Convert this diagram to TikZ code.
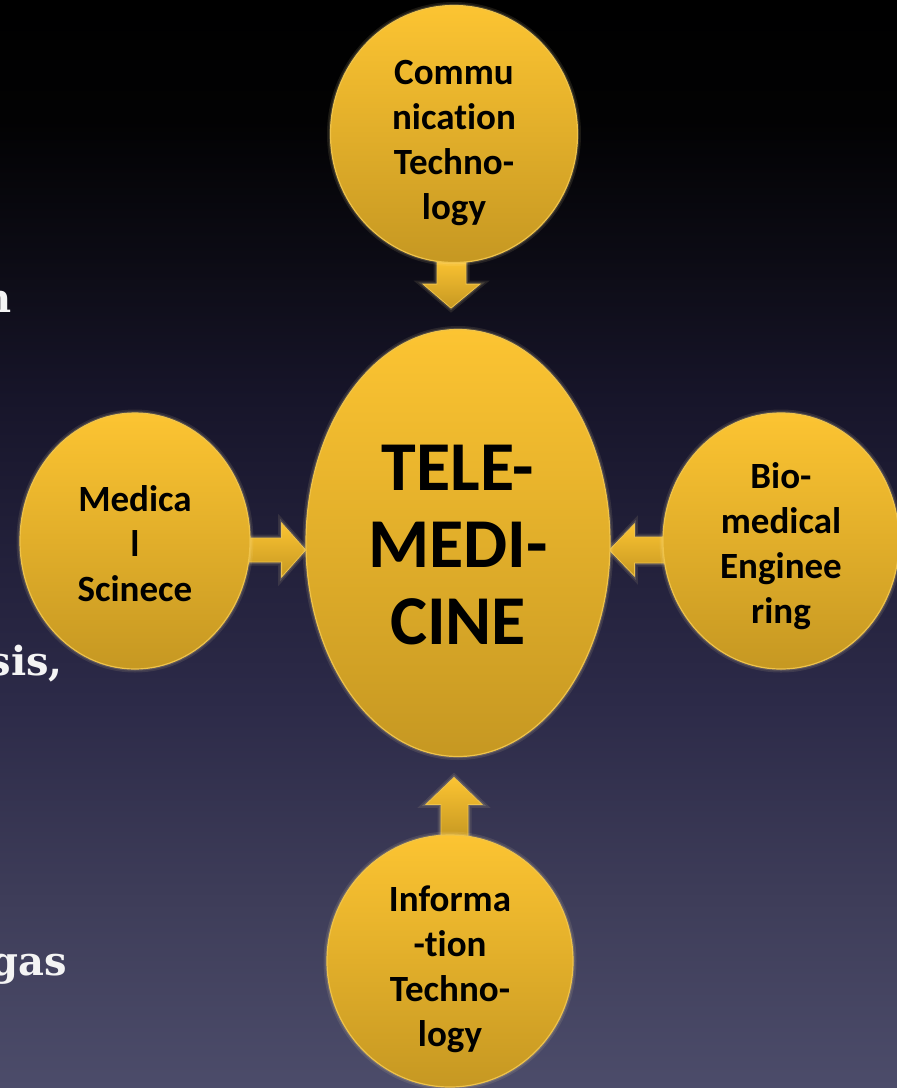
\documentclass[tikz,border=0pt]{standalone}
\usepackage{fontspec}
\newfontfamily\calib{Carlito}[Ligatures={NoCommon,NoRare}, Contextuals=NoAlternate]
\newfontfamily\slab{DejaVu Serif}
\usetikzlibrary{shapes.geometric}
\newcommand\bubstrut[1]{\rule{0pt}{#1}}
\definecolor{goldtop}{HTML}{FCC432}
\definecolor{goldbot}{HTML}{C69822}
\definecolor{goldedge}{HTML}{EFC34A}
\definecolor{glowc}{HTML}{FFE9A8}
\definecolor{fragc}{HTML}{F4F4F4}
\definecolor{bgA}{HTML}{000000}
\definecolor{bgB}{HTML}{020203}
\definecolor{bgC}{HTML}{0D0C16}
\definecolor{bgD}{HTML}{17152A}
\definecolor{bgE}{HTML}{22203A}
\definecolor{bgF}{HTML}{2C2A48}
\definecolor{bgG}{HTML}{3E3D59}
\definecolor{bgH}{HTML}{4C4C6A}
\pgfdeclareverticalshading{slidebg}{100bp}{color(0bp)=(bgH); color(25bp)=(bgH); color(33.64bp)=(bgG); color(42.83bp)=(bgF); color(49.72bp)=(bgE); color(56.62bp)=(bgD); color(62.59bp)=(bgC); color(69.49bp)=(bgB); color(75bp)=(bgA); color(100bp)=(bgA)}
\pgfdeclarelayer{bglayer}
\pgfdeclarelayer{midlayer}
\pgfsetlayers{bglayer,midlayer,main}
\tikzset{
  glow/.style={preaction={draw=glowc, line width=7pt, opacity=0.10},
               preaction={draw=glowc, line width=3.5pt, opacity=0.16}},
  goldshade/.style={top color=goldtop, bottom color=goldbot, draw=goldedge, line width=1.2pt},
  bubble/.style={ellipse, goldshade, glow, inner sep=0pt, align=center, text=black, text depth=0pt,
                 font=\calib\bfseries\fontsize{37}{45}\selectfont},
  hub/.style={bubble, font=\calib\bfseries\fontsize{70}{77}\selectfont},
  blockarrow/.style={goldshade, glow, line width=0.8pt, line join=miter},
  frag/.style={anchor=base east, inner sep=0pt, text=fragc, font=\slab\bfseries\fontsize{40}{48}\selectfont}
}
\begin{document}
\begin{tikzpicture}[x=1pt,y=-1pt]
\useasboundingbox (0,0) rectangle (897,1088);
\begin{pgfonlayer}{bglayer}
\fill[shading=slidebg] (0,0) rectangle (897,1088);
\end{pgfonlayer}

% partial slide text at the left edge
\node[frag] (f1) at (12,312) {n};
\node[frag] (f2) at (63,675) {sis,};
\node[frag] (f3) at (67,975) {gas};

% bubbles
\node[hub, minimum width=304pt, minimum height=427pt] (tm) at (458,543) {\bubstrut{48pt}TELE-\\MEDI-\\CINE};
\node[bubble, minimum width=247pt, minimum height=257pt] (ct) at (454,134) {\bubstrut{35pt}Commu\\nication\\Techno-\\logy};
\node[bubble, minimum width=230pt, minimum height=256pt] (ml) at (135,541) {\bubstrut{31pt}Medica\\l\\Scinece};
\node[bubble, minimum width=236pt, minimum height=256pt] (be) at (781,541) {\bubstrut{29pt}Bio-\\medical\\Enginee\\ring};
\node[bubble, minimum width=246pt, minimum height=252pt] (it) at (450,961) {\bubstrut{35pt}Informa\\-tion\\Techno-\\logy};

% block arrows
\begin{pgfonlayer}{midlayer}
\path[blockarrow, shift={(ct.south)}] (-17,-4) -- (-17,21) -- (-31,21) -- (-3,45) -- (26,21) -- (12,21) -- (12,-4) -- cycle;
\path[blockarrow, shift={(ml.east)}] (-4,-3) -- (31,-3) -- (31,-18) -- (55,9) -- (31,36) -- (31,21) -- (-4,21) -- cycle;
\path[blockarrow, shift={(be.west)}] (4,-4) -- (-28,-4) -- (-28,-17) -- (-53,9) -- (-28,35) -- (-28,22) -- (4,22) -- cycle;
\path[blockarrow, shift={(it.north)}] (-9,4) -- (-9,-30) -- (-24,-30) -- (4,-57) -- (32,-30) -- (18,-30) -- (18,4) -- cycle;
\end{pgfonlayer}
\end{tikzpicture}
\end{document}
